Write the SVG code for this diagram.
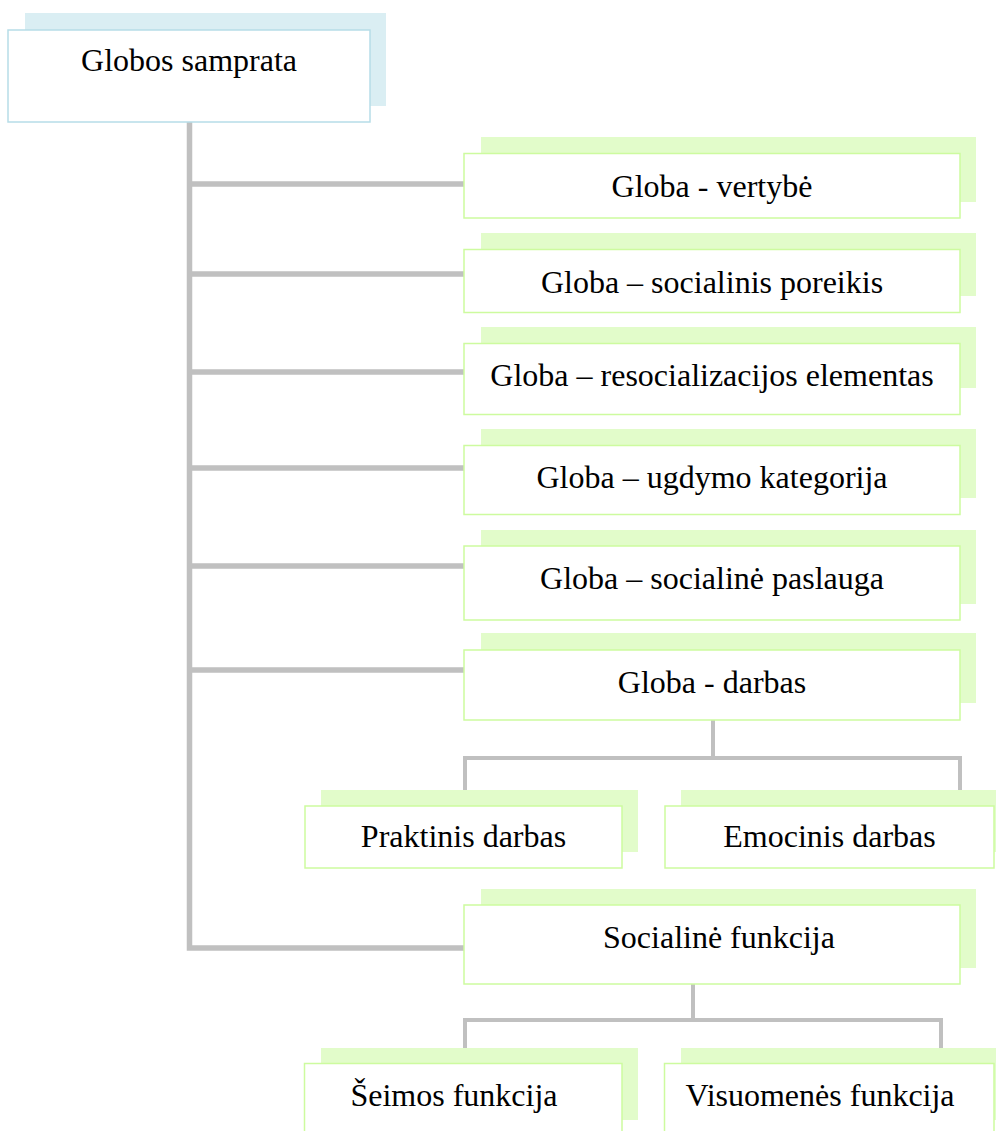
<svg xmlns="http://www.w3.org/2000/svg" width="996" height="1131" viewBox="0 0 996 1131">
<style>
text{font-family:"Liberation Serif","Times New Roman",serif;font-size:32px;fill:#000;text-anchor:middle}
.sh{fill:#e2fcca}
.fr{fill:#fff;stroke:#cdfb9f;stroke-width:1.5}
.shb{fill:#daeef3}
.frb{fill:#fff;stroke:#b6dde8;stroke-width:1.5}
.trunk{stroke:#c0c0c0;stroke-width:5.5;fill:none}
.sub{stroke:#c0c0c0;stroke-width:4;fill:none}
</style>
<rect width="996" height="1131" fill="#fff"/>
<g id="connectors">
<path class="trunk" d="M189.5,122 V948 H464"/>
<path class="trunk" d="M189.5,184 H464 M189.5,274 H464 M189.5,372 H464 M189.5,468 H464 M189.5,566 H464 M189.5,670 H464"/>
<path class="sub" d="M713,720 V758 M465,791 V758 H960 V791"/>
<path class="sub" d="M693,984 V1020 M465,1048 V1020 H941 V1048"/>
</g>
<g id="root">
<rect class="shb" x="25" y="13" width="361" height="93"/>
<rect class="frb" x="8" y="30" width="362" height="92"/>
<text x="189" y="71">Globos samprata</text>
</g>
<g id="n1">
<rect class="sh" x="481" y="137" width="495" height="65"/>
<rect class="fr" x="464" y="153.5" width="496" height="64.5"/>
<text x="712" y="197">Globa - vertybė</text>
</g>
<g id="n2">
<rect class="sh" x="481" y="233" width="495" height="63"/>
<rect class="fr" x="464" y="249.5" width="496" height="63"/>
<text x="712" y="293">Globa – socialinis poreikis</text>
</g>
<g id="n3">
<rect class="sh" x="481" y="327" width="495" height="61"/>
<rect class="fr" x="464" y="343.5" width="496" height="71"/>
<text x="712" y="386">Globa – resocializacijos elementas</text>
</g>
<g id="n4">
<rect class="sh" x="481" y="429" width="495" height="69"/>
<rect class="fr" x="464" y="445.5" width="496" height="69"/>
<text x="712" y="488">Globa – ugdymo kategorija</text>
</g>
<g id="n5">
<rect class="sh" x="481" y="530" width="495" height="74"/>
<rect class="fr" x="464" y="546" width="496" height="74"/>
<text x="712" y="589">Globa – socialinė paslauga</text>
</g>
<g id="n6">
<rect class="sh" x="481" y="633" width="495" height="70"/>
<rect class="fr" x="464" y="650" width="496" height="70"/>
<text x="712" y="693">Globa - darbas</text>
</g>
<g id="n7">
<rect class="sh" x="321" y="790" width="317" height="62"/>
<rect class="fr" x="305" y="806" width="317" height="62"/>
<text x="463.5" y="847">Praktinis darbas</text>
</g>
<g id="n8">
<rect class="sh" x="681" y="790" width="330" height="62"/>
<rect class="fr" x="665" y="806" width="329" height="62"/>
<text x="829.5" y="847">Emocinis darbas</text>
</g>
<g id="n9">
<rect class="sh" x="481" y="889" width="495" height="79"/>
<rect class="fr" x="464" y="905" width="496" height="79"/>
<text x="719" y="948">Socialinė funkcija</text>
</g>
<g id="n10">
<rect class="sh" x="321" y="1048" width="317" height="72"/>
<rect class="fr" x="304.5" y="1063.5" width="317.5" height="80"/>
<text x="454" y="1106">Šeimos funkcija</text>
</g>
<g id="n11">
<rect class="sh" x="681" y="1048" width="330" height="72"/>
<rect class="fr" x="664.5" y="1063.5" width="329.5" height="80"/>
<text x="820" y="1106">Visuomenės funkcija</text>
</g>
</svg>
